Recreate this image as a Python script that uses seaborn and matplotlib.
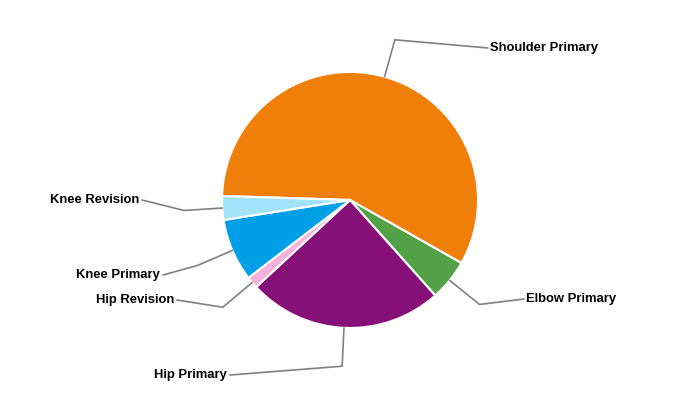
import numpy as np
import seaborn as sns
import matplotlib.pyplot as plt

categories = ["Shoulder Primary", "Elbow Primary", "Hip Primary", "Hip Revision", "Knee Primary", "Knee Revision"]
shares = [57.7, 5.2, 24.7, 1.5, 7.9, 3.0]
colors = ["#f07f09", "#53a146", "#861077", "#f4b1dc", "#009fe8", "#a3e3fa"]

# label anchor points (end of leader line), pixel coords, y measured from top
label_x = [488, 524, 230, 177, 163, 142]
label_y = [48, 299, 375, 300, 275, 200]

sns.set_theme(style="white")
plt.rcParams['font.family'] = ['Liberation Sans', 'DejaVu Sans']

fig = plt.figure(figsize=(7, 4), dpi=100)
ax = fig.add_axes([0, 0, 1, 1])

cx, cy, r = 350, 200, 128
start = 178.2
explode = [0.02, 0, 0, 0, 0, 0]
wedges, _ = ax.pie(shares, colors=colors, startangle=start, counterclock=False,
                   center=(cx, cy), radius=r, explode=explode, frame=True,
                   wedgeprops=dict(edgecolor="white", linewidth=1.5))
ax.set_xlim(0, 700)
ax.set_ylim(0, 400)
ax.set_aspect("equal")
ax.axis("off")

for w, name, lx, ly in zip(wedges, categories, label_x, label_y):
    mid = np.deg2rad((w.theta1 + w.theta2) / 2)
    p0 = (cx + r * np.cos(mid), cy + r * np.sin(mid))
    p1 = (cx + 1.3 * r * np.cos(mid), cy + 1.3 * r * np.sin(mid))
    ty = 400 - ly
    ax.plot([p0[0], p1[0], lx], [p0[1], p1[1], ty], color="#808080", lw=1.2,
            solid_joinstyle="miter")
    right = lx > cx
    ax.text(lx + (2 if right else -3), ty, name, ha="left" if right else "right",
            va="center", fontsize=9.4, fontweight="bold", color="black")

fig.savefig("out.png", dpi=100)
